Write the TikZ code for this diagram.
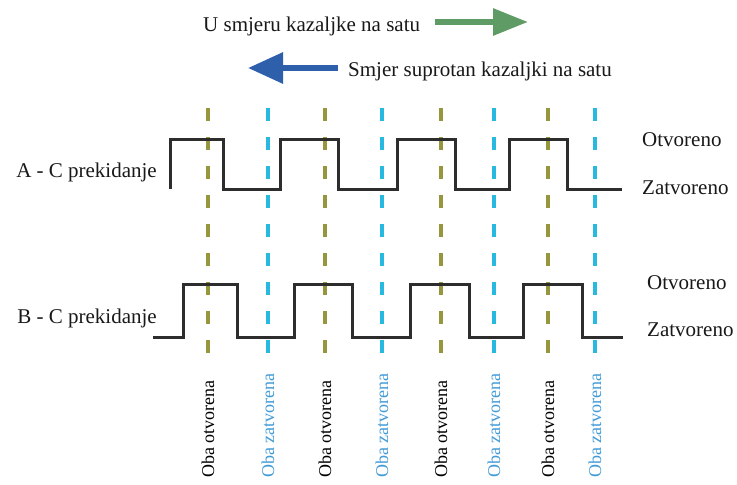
\documentclass[tikz,border=0pt]{standalone}
\usepackage{fontspec}
\setmainfont{Liberation Serif}
\usetikzlibrary{arrows.meta}
\definecolor{olivedash}{RGB}{150,150,60}
\definecolor{cyandash}{RGB}{40,185,225}
\definecolor{arrgreen}{RGB}{95,155,100}
\definecolor{arrblue}{RGB}{45,95,170}
\definecolor{ztext}{RGB}{65,155,215}
\definecolor{sig}{RGB}{45,45,45}
\begin{document}
\begin{tikzpicture}[x=1pt,y=-1pt,
  lbl/.style={font=\fontsize{21}{24}\selectfont, inner sep=0pt, text=black!90},
  vlbl/.style={font=\fontsize{18}{20}\selectfont, inner sep=0pt, rotate=90, anchor=west},
  sigline/.style={draw=sig, line width=3pt, line join=miter},
  odash/.style={draw=olivedash, line width=3.2pt, dash pattern=on 13pt off 16pt},
  cdash/.style={draw=cyandash, line width=3.2pt, dash pattern=on 13pt off 16pt},
  bigarrow/.style={line width=6pt, -{Triangle[length=35pt,width=26pt]}}]
\useasboundingbox (0,0) rectangle (737,485);
\fill[white] (0,0) rectangle (737,485);

% legend
\node[lbl, anchor=base west] (cw) at (203,31) {U smjeru kazaljke na satu};
\coordinate (gS) at (435,22);
\coordinate (gT) at (528,22);
\draw[bigarrow, draw=arrgreen, fill=arrgreen] (gS) -- (gT);
\node[lbl, anchor=base west] (ccw) at (348,76) {Smjer suprotan kazaljki na satu};
\coordinate (bS) at (338,68);
\coordinate (bT) at (248,68);
\draw[bigarrow, draw=arrblue, fill=arrblue, -{Triangle[length=35pt,width=30pt]}] (bS) -- (bT);

% dashed guide lines
\foreach \x in {208,325,441,548} \draw[odash] (\x,108) -- (\x,357);
\foreach \x in {268,382,494,595} \draw[cdash] (\x,108) -- (\x,357);

% signal A
\draw[sigline] (170,189) -- (170,139) -- (223,139) -- (223,189) -- (280,189) -- (280,139)
  -- (338,139) -- (338,189) -- (397,189) -- (397,139) -- (455,139) -- (455,189)
  -- (509,189) -- (509,139) -- (567,139) -- (567,189) -- (622,189);
% signal B
\draw[sigline] (153,337) -- (183,337) -- (183,284) -- (237,284) -- (237,337) -- (294,337)
  -- (294,284) -- (352,284) -- (352,337) -- (410,337) -- (410,284) -- (469,284)
  -- (469,337) -- (523,337) -- (523,284) -- (582,284) -- (582,337) -- (623,337);

% labels
\node[lbl, anchor=base east] (la) at (157,177) {A - C prekidanje};
\node[lbl, anchor=base east] (lb) at (157,323) {B - C prekidanje};
\node[lbl, anchor=west] (ao) at (642,140) {Otvoreno};
\node[lbl, anchor=west] (az) at (642,188) {Zatvoreno};
\node[lbl, anchor=west] (bo) at (647,283) {Otvoreno};
\node[lbl, anchor=west] (bz) at (647,330) {Zatvoreno};

% state labels
\foreach \x/\n in {208/o1,325/o2,441/o3,548/o4}
  \node[vlbl, text=black] (\n) at (\x,478) {Oba otvorena};
\foreach \x/\n in {268/z1,382/z2,494/z3,595/z4}
  \node[vlbl, text=ztext] (\n) at (\x,478) {Oba zatvorena};
\end{tikzpicture}
\end{document}
